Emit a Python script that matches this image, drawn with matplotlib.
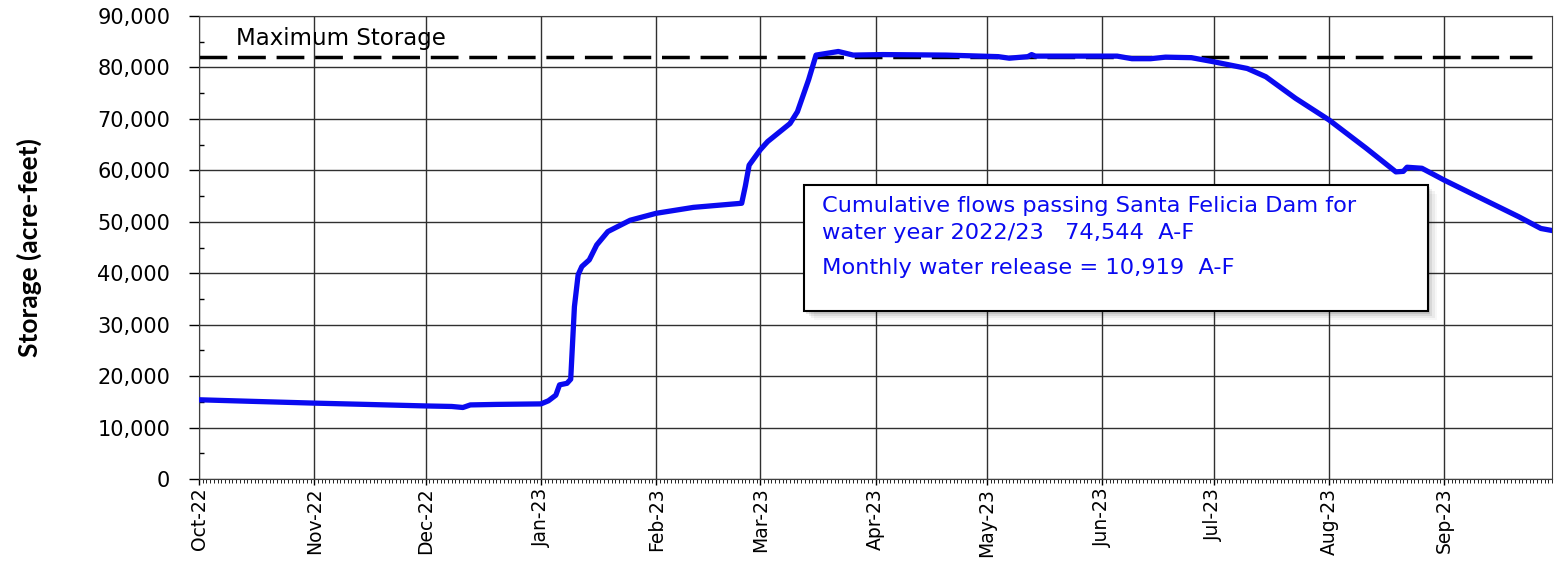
import pandas as pd
import numpy as np
import matplotlib
matplotlib.use('Agg')
from matplotlib import pyplot as plt
import matplotlib.dates as mdates
from matplotlib.ticker import FuncFormatter, MultipleLocator
from matplotlib.patches import Rectangle

# storage readings (acre-feet), water year 2022/23
dates = ['2022-10-01', '2022-10-15', '2022-11-01', '2022-11-15', '2022-12-01',
         '2022-12-08', '2022-12-11', '2022-12-13', '2022-12-20', '2023-01-01',
         '2023-01-03', '2023-01-05', '2023-01-06', '2023-01-08', '2023-01-09',
         '2023-01-10', '2023-01-11', '2023-01-12', '2023-01-14', '2023-01-16',
         '2023-01-19', '2023-01-25', '2023-02-01', '2023-02-11', '2023-02-24',
         '2023-02-25', '2023-02-26', '2023-03-01', '2023-03-03', '2023-03-09',
         '2023-03-11', '2023-03-14', '2023-03-16', '2023-03-22', '2023-03-26',
         '2023-04-03', '2023-04-20', '2023-05-04', '2023-05-07', '2023-05-12',
         '2023-05-13', '2023-05-14', '2023-06-05', '2023-06-09', '2023-06-14',
         '2023-06-18', '2023-06-25', '2023-07-01', '2023-07-10', '2023-07-15',
         '2023-07-23', '2023-08-01', '2023-08-11', '2023-08-19', '2023-08-21',
         '2023-08-22', '2023-08-26', '2023-09-01', '2023-09-10', '2023-09-21',
         '2023-09-27', '2023-09-30']
storage = [15400, 15100, 14750, 14500, 14200,
           14100, 13900, 14400, 14500, 14600,
           15200, 16300, 18300, 18600, 19400,
           33500, 39700, 41300, 42600, 45500,
           48100, 50300, 51650, 52800, 53600,
           57000, 61000, 64000, 65600, 69100,
           71400, 77600, 82400, 83100, 82400,
           82500, 82400, 82100, 81800, 82100,
           82500, 82200, 82200, 81700, 81700,
           82000, 81900, 81100, 79800, 78200,
           74000, 69800, 64300, 59700, 59800,
           60600, 60400, 58100, 54900, 51000,
           48700, 48300]
max_storage = 82100

box_lines = ['Cumulative flows passing Santa Felicia Dam for',
             'water year 2022/23   74,544  A-F',
             'Monthly water release = 10,919  A-F']

x = pd.to_datetime(dates)

fig = plt.figure(figsize=(15.67, 5.63), dpi=100)
ax = fig.add_axes([199/1567, 84/563, 1353/1567, 463/563])

ax.plot(x, storage, color='#0a0af0', lw=3.8, solid_joinstyle='round', zorder=3)
ax.axhline(max_storage, xmin=0, xmax=0.985, color='black', lw=2.5,
           dashes=(8, 3.1), zorder=2)
ax.text(pd.Timestamp('2022-10-11'), 84400, 'Maximum Storage', fontsize=16.5,
        family='DejaVu Sans', va='baseline', ha='left')

ax.set_xlim(pd.Timestamp('2022-10-01'), pd.Timestamp('2023-09-30'))
ax.set_ylim(0, 90000)

ax.xaxis.set_major_locator(mdates.MonthLocator())
ax.xaxis.set_major_formatter(mdates.DateFormatter('%b-%y'))
ax.xaxis.set_minor_locator(mdates.DayLocator())
ax.yaxis.set_major_locator(MultipleLocator(10000))
ax.yaxis.set_minor_locator(MultipleLocator(5000))
ax.yaxis.set_major_formatter(FuncFormatter(lambda v, p: f'{int(v):,}'))

ax.tick_params(axis='x', which='major', length=4.3, width=1, direction='out',
               labelrotation=90, labelsize=13.5, pad=2,
               labelfontfamily='Liberation Sans Narrow')
ax.tick_params(axis='x', which='minor', length=2.9, width=0.6, direction='out')
ax.tick_params(axis='y', which='major', length=7.2, width=1, direction='out',
               labelsize=15, pad=13.5)
ax.tick_params(axis='y', which='minor', length=3.6, width=1, direction='in')

ax.grid(True, which='major', color='#303030', lw=1)
for s in ax.spines.values():
    s.set_color('#404040')

ax.set_ylabel('Storage (acre-feet)', fontsize=19, fontweight='bold', family='Lato')
ax.yaxis.set_label_coords(-0.116, 0.5)

# annotation box with drop shadow
x0, y0, w, h = 0.447, 0.362, 0.461, 0.2735
for i, a in enumerate([0.10, 0.07, 0.05, 0.03]):
    d = 0.0012 * (i + 1)
    ax.add_patch(Rectangle((x0 + d * 1.5, y0 - d * 4), w, h, transform=ax.transAxes,
                           facecolor='black', alpha=a, edgecolor='none', zorder=4))
ax.add_patch(Rectangle((x0, y0), w, h, transform=ax.transAxes, facecolor='white',
                       edgecolor='black', lw=1.5, zorder=5))
ty = [0.5767, 0.5184, 0.4428]
for t, yy in zip(box_lines, ty):
    ax.text(0.4605, yy, t, transform=ax.transAxes, color='#0a0af0', fontsize=16.2,
            family='DejaVu Sans', va='baseline', ha='left', zorder=6)

fig.savefig('out.png', dpi=100)
